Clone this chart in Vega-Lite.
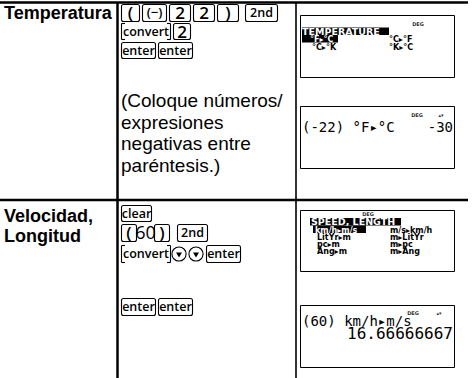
{
  "$schema": "https://vega.github.io/schema/vega-lite/v6.json",
  "width": 472,
  "height": 378,
  "autosize": "none",
  "padding": 0,
  "background": "white",
  "config": {"view": {"stroke": null}},
  "datasets": {
    "frame": [
      {"x": 0, "x2": 468, "y": 2.5, "y2": 2.5, "role": "border"},
      {"x": 0, "x2": 468, "y": 200, "y2": 200, "role": "border"},
      {"x": 117.5, "x2": 117.5, "y": 2, "y2": 378, "role": "border"},
      {"x": 296, "x2": 296, "y": 2, "y2": 378, "role": "divider"}
    ],
    "labels": [
      {"text": "Temperatura", "x": 4, "y": 19, "role": "head"},
      {"text": "Velocidad,", "x": 4, "y": 222, "role": "head"},
      {"text": "Longitud", "x": 4, "y": 242, "role": "head"},
      {"text": "(Coloque números/", "x": 121, "y": 107, "role": "note"},
      {"text": "expresiones", "x": 121, "y": 128.5, "role": "note"},
      {"text": "negativas entre", "x": 121, "y": 150, "role": "note"},
      {"text": "paréntesis.)", "x": 121, "y": 171.5, "role": "note"}
    ],
    "keys": [
      {"label": "(", "x": 121.5, "x2": 139.5, "y": 4.5, "y2": 21.5, "role": "glyph", "box": true},
      {"label": "(−)", "x": 142.5, "x2": 166.5, "y": 4.5, "y2": 21.5, "role": "minus", "box": true},
      {"label": "2", "x": 169.5, "x2": 190.5, "y": 4.5, "y2": 21.5, "role": "glyph", "box": true},
      {"label": "2", "x": 193.5, "x2": 214.5, "y": 4.5, "y2": 21.5, "role": "glyph", "box": true},
      {"label": ")", "x": 217.5, "x2": 238.5, "y": 4.5, "y2": 21.5, "role": "glyph", "box": true},
      {"label": "2nd", "x": 245.5, "x2": 277.5, "y": 4.5, "y2": 21.5, "role": "word", "box": true},
      {"label": "convert", "x": 121, "x2": 171, "y": 23.5, "y2": 39.5, "role": "word", "box": false},
      {"label": "2", "x": 173.5, "x2": 190.5, "y": 23.5, "y2": 39.5, "role": "glyph", "box": true},
      {"label": "enter", "x": 121.5, "x2": 155.5, "y": 42.5, "y2": 58.5, "role": "word", "box": true},
      {"label": "enter", "x": 158.5, "x2": 192.5, "y": 42.5, "y2": 58.5, "role": "word", "box": true},
      {"label": "clear", "x": 121.5, "x2": 151.5, "y": 205.5, "y2": 221.5, "role": "word", "box": true},
      {"label": "(", "x": 121.5, "x2": 136.5, "y": 224.5, "y2": 241.5, "role": "glyph", "box": true},
      {"label": "60", "x": 137, "x2": 154, "y": 224.5, "y2": 241.5, "role": "plain", "box": false},
      {"label": ")", "x": 154.5, "x2": 169.5, "y": 224.5, "y2": 241.5, "role": "glyph", "box": true},
      {"label": "2nd", "x": 177.5, "x2": 207.5, "y": 224.5, "y2": 241.5, "role": "word", "box": true},
      {"label": "convert", "x": 121, "x2": 171, "y": 245.5, "y2": 262.5, "role": "word", "box": false},
      {"label": "enter", "x": 206.5, "x2": 240.5, "y": 245.5, "y2": 262.5, "role": "word", "box": true},
      {"label": "enter", "x": 121.5, "x2": 155.5, "y": 298.5, "y2": 315.5, "role": "word", "box": true},
      {"label": "enter", "x": 158.5, "x2": 192.5, "y": 298.5, "y2": 315.5, "role": "word", "box": true}
    ],
    "brackets": [
      {"x": 121.5, "x2": 121.5, "y": 23.5, "y2": 39.5},
      {"x": 121.5, "x2": 125, "y": 23.5, "y2": 23.5},
      {"x": 121.5, "x2": 125, "y": 39.5, "y2": 39.5},
      {"x": 170.5, "x2": 170.5, "y": 23.5, "y2": 39.5},
      {"x": 167, "x2": 170.5, "y": 23.5, "y2": 23.5},
      {"x": 167, "x2": 170.5, "y": 39.5, "y2": 39.5},
      {"x": 121.5, "x2": 121.5, "y": 245.5, "y2": 262.5},
      {"x": 121.5, "x2": 125, "y": 245.5, "y2": 245.5},
      {"x": 121.5, "x2": 125, "y": 262.5, "y2": 262.5},
      {"x": 170.5, "x2": 170.5, "y": 245.5, "y2": 262.5},
      {"x": 167, "x2": 170.5, "y": 245.5, "y2": 245.5},
      {"x": 167, "x2": 170.5, "y": 262.5, "y2": 262.5}
    ],
    "arrows": [
      {"x": 179, "y": 254},
      {"x": 196, "y": 254}
    ],
    "screens": [
      {"x": 300.5, "x2": 454.5, "y": 15.5, "y2": 77.5},
      {"x": 300.5, "x2": 454.5, "y": 106.5, "y2": 168.5},
      {"x": 300.5, "x2": 454.5, "y": 210.5, "y2": 271.5},
      {"x": 300.5, "x2": 454.5, "y": 305.5, "y2": 367.5}
    ],
    "inverse": [
      {"x": 302, "x2": 389, "y": 27.5, "y2": 35},
      {"x": 302, "x2": 338, "y": 35, "y2": 42.5},
      {"x": 310, "x2": 401, "y": 218, "y2": 225.5},
      {"x": 313, "x2": 366, "y": 225.5, "y2": 233}
    ],
    "lcd": [
      {"text": "DEG", "x": 418, "y": 24, "role": "tiny", "state": "normal"},
      {"text": "DEG", "x": 417, "y": 115, "role": "tiny", "state": "normal"},
      {"text": "▴▾", "x": 441, "y": 115, "role": "tiny", "state": "normal"},
      {"text": "DEG", "x": 368, "y": 213.5, "role": "tiny", "state": "normal"},
      {"text": "DEG", "x": 413, "y": 313, "role": "tiny", "state": "normal"},
      {"text": "▴▾", "x": 439, "y": 313, "role": "tiny", "state": "normal"},
      {"text": "TEMPERATURE", "x": 302, "y": 34.5, "role": "menuhead", "state": "selected"},
      {"text": "SPEED, LENGTH", "x": 311, "y": 225, "role": "menuhead", "state": "selected"},
      {"text": "°F▸°C", "x": 310, "y": 42, "role": "menu", "state": "selected"},
      {"text": "°C▸°F", "x": 389, "y": 42, "role": "menu", "state": "normal"},
      {"text": "°C▸°K", "x": 312, "y": 49.5, "role": "menu", "state": "normal"},
      {"text": "°K▸°C", "x": 389, "y": 49.5, "role": "menu", "state": "normal"},
      {"text": "km/h▸m/s", "x": 315, "y": 232.5, "role": "menu", "state": "selected"},
      {"text": "m/s▸km/h", "x": 390, "y": 232.5, "role": "menu", "state": "normal"},
      {"text": "LitYr▸m", "x": 317, "y": 239.5, "role": "menu", "state": "normal"},
      {"text": "m▸LitYr", "x": 390, "y": 239.5, "role": "menu", "state": "normal"},
      {"text": "pc▸m", "x": 317, "y": 246.5, "role": "menu", "state": "normal"},
      {"text": "m▸pc", "x": 390, "y": 246.5, "role": "menu", "state": "normal"},
      {"text": "Ang▸m", "x": 317, "y": 253.5, "role": "menu", "state": "normal"},
      {"text": "m▸Ang", "x": 390, "y": 253.5, "role": "menu", "state": "normal"},
      {"text": "(-22) °F▸°C", "x": 302, "y": 132, "role": "entry", "state": "normal"},
      {"text": "-30", "x": 453, "y": 132, "role": "answer", "state": "normal"},
      {"text": "(60) km/h▸m/s", "x": 302, "y": 326, "role": "entry", "state": "normal"},
      {"text": "16.66666667", "x": 453, "y": 339, "role": "result", "state": "normal"}
    ]
  },
  "encoding": {
    "x": {"field": "x", "type": "quantitative", "scale": {"domain": [0, 472], "range": [0, 472], "zero": false, "nice": false}, "axis": null},
    "y": {"field": "y", "type": "quantitative", "scale": {"domain": [0, 378], "range": [0, 378], "zero": false, "nice": false}, "axis": null}
  },
  "layer": [
    {
      "data": {"name": "screens"},
      "mark": {"type": "rect", "fill": "white", "stroke": "black", "strokeWidth": 1},
      "encoding": {"x2": {"field": "x2"}, "y2": {"field": "y2"}}
    },
    {
      "data": {"name": "inverse"},
      "mark": {"type": "rect", "fill": "black"},
      "encoding": {"x2": {"field": "x2"}, "y2": {"field": "y2"}}
    },
    {
      "data": {"name": "frame"},
      "transform": [{"filter": "datum.role === 'border'"}],
      "mark": {"type": "rule", "strokeWidth": 2.5, "color": "black"},
      "encoding": {"x2": {"field": "x2"}, "y2": {"field": "y2"}}
    },
    {
      "data": {"name": "frame"},
      "transform": [{"filter": "datum.role === 'divider'"}],
      "mark": {"type": "rule", "strokeWidth": 1.6, "color": "black"},
      "encoding": {"x2": {"field": "x2"}, "y2": {"field": "y2"}}
    },
    {
      "data": {"name": "labels"},
      "transform": [{"filter": "datum.role === 'head'"}],
      "mark": {"type": "text", "align": "left", "baseline": "alphabetic", "font": "Liberation Sans", "fontWeight": "bold", "fontSize": 18, "color": "black"},
      "encoding": {"text": {"field": "text"}}
    },
    {
      "data": {"name": "labels"},
      "transform": [{"filter": "datum.role === 'note'"}],
      "mark": {"type": "text", "align": "left", "baseline": "alphabetic", "font": "Liberation Sans", "fontSize": 19, "color": "black"},
      "encoding": {"text": {"field": "text"}}
    },
    {
      "data": {"name": "keys"},
      "transform": [{"filter": "datum.box"}],
      "mark": {"type": "rect", "fill": "white", "stroke": "black", "strokeWidth": 1.1, "cornerRadius": 2},
      "encoding": {"x2": {"field": "x2"}, "y2": {"field": "y2"}}
    },
    {
      "data": {"name": "brackets"},
      "mark": {"type": "rule", "strokeWidth": 1.1, "color": "black"},
      "encoding": {"x2": {"field": "x2"}, "y2": {"field": "y2"}}
    },
    {
      "data": {"name": "arrows"},
      "mark": {"type": "point", "shape": "circle", "filled": false, "size": 200, "stroke": "black", "strokeWidth": 1.1, "opacity": 1},
      "encoding": {}
    },
    {
      "data": {"name": "arrows"},
      "mark": {"type": "point", "shape": "triangle-down", "filled": true, "size": 35, "color": "black", "opacity": 1, "yOffset": 1},
      "encoding": {}
    },
    {
      "data": {"name": "keys"},
      "transform": [
        {"filter": "datum.role === 'glyph'"},
        {"calculate": "(datum.x + datum.x2) / 2", "as": "cx"},
        {"calculate": "(datum.y + datum.y2) / 2", "as": "cy"}
      ],
      "mark": {"type": "text", "align": "center", "baseline": "middle", "font": "Open Sans", "fontWeight": 600, "fontSize": 17, "color": "black", "dy": 1},
      "encoding": {"x": {"field": "cx", "type": "quantitative"}, "y": {"field": "cy", "type": "quantitative"}, "text": {"field": "label"}}
    },
    {
      "data": {"name": "keys"},
      "transform": [
        {"filter": "datum.role === 'minus'"},
        {"calculate": "(datum.x + datum.x2) / 2", "as": "cx"},
        {"calculate": "(datum.y + datum.y2) / 2", "as": "cy"}
      ],
      "mark": {"type": "text", "align": "center", "baseline": "middle", "font": "Open Sans", "fontWeight": 600, "fontSize": 13, "color": "black"},
      "encoding": {"x": {"field": "cx", "type": "quantitative"}, "y": {"field": "cy", "type": "quantitative"}, "text": {"field": "label"}}
    },
    {
      "data": {"name": "keys"},
      "transform": [
        {"filter": "datum.role === 'word'"},
        {"calculate": "(datum.x + datum.x2) / 2", "as": "cx"},
        {"calculate": "(datum.y + datum.y2) / 2", "as": "cy"}
      ],
      "mark": {"type": "text", "align": "center", "baseline": "middle", "font": "Open Sans", "fontWeight": 600, "fontSize": 12.5, "color": "black"},
      "encoding": {"x": {"field": "cx", "type": "quantitative"}, "y": {"field": "cy", "type": "quantitative"}, "text": {"field": "label"}}
    },
    {
      "data": {"name": "keys"},
      "transform": [
        {"filter": "datum.role === 'plain'"},
        {"calculate": "(datum.x + datum.x2) / 2", "as": "cx"},
        {"calculate": "(datum.y + datum.y2) / 2", "as": "cy"}
      ],
      "mark": {"type": "text", "align": "center", "baseline": "middle", "font": "Open Sans", "fontSize": 18, "color": "black", "dy": 1},
      "encoding": {"x": {"field": "cx", "type": "quantitative"}, "y": {"field": "cy", "type": "quantitative"}, "text": {"field": "label"}}
    },
    {
      "data": {"name": "lcd"},
      "transform": [{"filter": "datum.role === 'tiny'"}],
      "mark": {"type": "text", "align": "center", "baseline": "middle", "font": "DejaVu Sans", "fontWeight": "bold", "fontSize": 5, "color": "#333"},
      "encoding": {"text": {"field": "text"}}
    },
    {
      "data": {"name": "lcd"},
      "transform": [{"filter": "datum.role === 'menuhead'"}],
      "mark": {"type": "text", "align": "left", "baseline": "alphabetic", "font": "DejaVu Sans", "fontWeight": "bold", "fontSize": 9.5},
      "encoding": {"text": {"field": "text"}, "color": {"field": "state", "type": "nominal", "scale": {"domain": ["normal", "selected"], "range": ["#000000", "#ffffff"]}, "legend": null}}
    },
    {
      "data": {"name": "lcd"},
      "transform": [{"filter": "datum.role === 'menu'"}],
      "mark": {"type": "text", "align": "left", "baseline": "alphabetic", "font": "DejaVu Sans", "fontWeight": "bold", "fontSize": 8},
      "encoding": {"text": {"field": "text"}, "color": {"field": "state", "type": "nominal", "scale": {"domain": ["normal", "selected"], "range": ["#000000", "#ffffff"]}, "legend": null}}
    },
    {
      "data": {"name": "lcd"},
      "transform": [{"filter": "datum.role === 'entry'"}],
      "mark": {"type": "text", "align": "left", "baseline": "alphabetic", "font": "DejaVu Sans Mono", "fontSize": 14, "color": "black"},
      "encoding": {"text": {"field": "text"}}
    },
    {
      "data": {"name": "lcd"},
      "transform": [{"filter": "datum.role === 'answer'"}],
      "mark": {"type": "text", "align": "right", "baseline": "alphabetic", "font": "DejaVu Sans Mono", "fontSize": 14, "color": "black"},
      "encoding": {"text": {"field": "text"}}
    },
    {
      "data": {"name": "lcd"},
      "transform": [{"filter": "datum.role === 'result'"}],
      "mark": {"type": "text", "align": "right", "baseline": "alphabetic", "font": "DejaVu Sans Mono", "fontSize": 16, "color": "black"},
      "encoding": {"text": {"field": "text"}}
    }
  ]
}
